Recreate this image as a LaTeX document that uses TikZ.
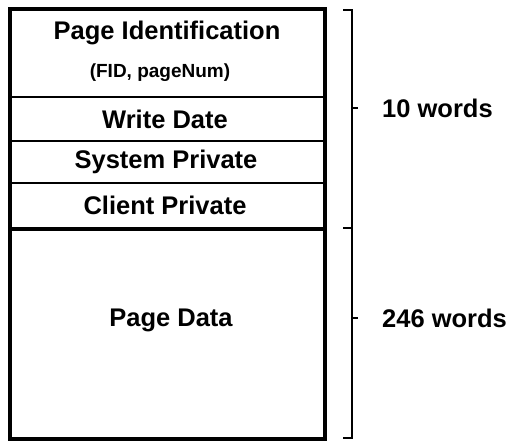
\documentclass[tikz,border=0pt]{standalone}
\usepackage{fontspec}
\setmainfont{Liberation Sans}
\usepackage{tikz}

\begin{document}
\begin{tikzpicture}[x=1pt, y=-1pt,
    field/.style={draw, line width=1.5pt, rectangle, minimum width=313pt, inner sep=0pt},
    big/.style={font=\bfseries\fontsize{25.5}{28}\selectfont, inner sep=0pt},
    small/.style={font=\bfseries\fontsize{19}{22}\selectfont, inner sep=0pt}]
  \useasboundingbox (0,0) rectangle (510,441);
  \node (pid) at (167.5,53.5) [field, minimum height=87pt] {};
  \node (wdate) at (167.5,119) [field, minimum height=44pt] {};
  \node (sys) at (167.5,162) [field, minimum height=42pt] {};
  \node (cli) at (167.5,205.5) [field, minimum height=45pt] {};
  \node (data) at (167.5,333) [field, minimum height=210pt] {};
  \draw[line width=4pt] (pid.north west) rectangle (data.south east);
  \draw[line width=4pt] (cli.south west) -- (cli.south east);
  \node (pidtext) at (167,33) [big] {Page Identification};
  \node (pidsub) at (160,73) [small] {(FID, pageNum)};
  \node (wdtext) at (165,119) [big] {Write Date};
  \node (systext) at (166,162) [big] {System Private};
  \node (clitext) at (165,205) [big] {Client Private};
  \node (datatext) at (171,320) [big] {Page Data};
  % brackets
  \coordinate (btop) at (352,10);
  \coordinate (bmid) at (352,228);
  \coordinate (bbot) at (352,438);
  \draw[line width=1.5pt] ([xshift=-9pt]btop) -- (btop) -- (bmid) -- ([xshift=-9pt]bmid);
  \draw[line width=1.5pt] (bmid) -- (bbot) -- ([xshift=-9pt]bbot);
  \node (hdrsize) at (382,108) [big, anchor=west] {10 words};
  \node (datasize) at (382,318) [big, anchor=west] {246 words};
  \draw[line width=1.5pt] (352,108) -- (358,108);
  \draw[line width=1.5pt] (352,318) -- (358,318);
\end{tikzpicture}
\end{document}
